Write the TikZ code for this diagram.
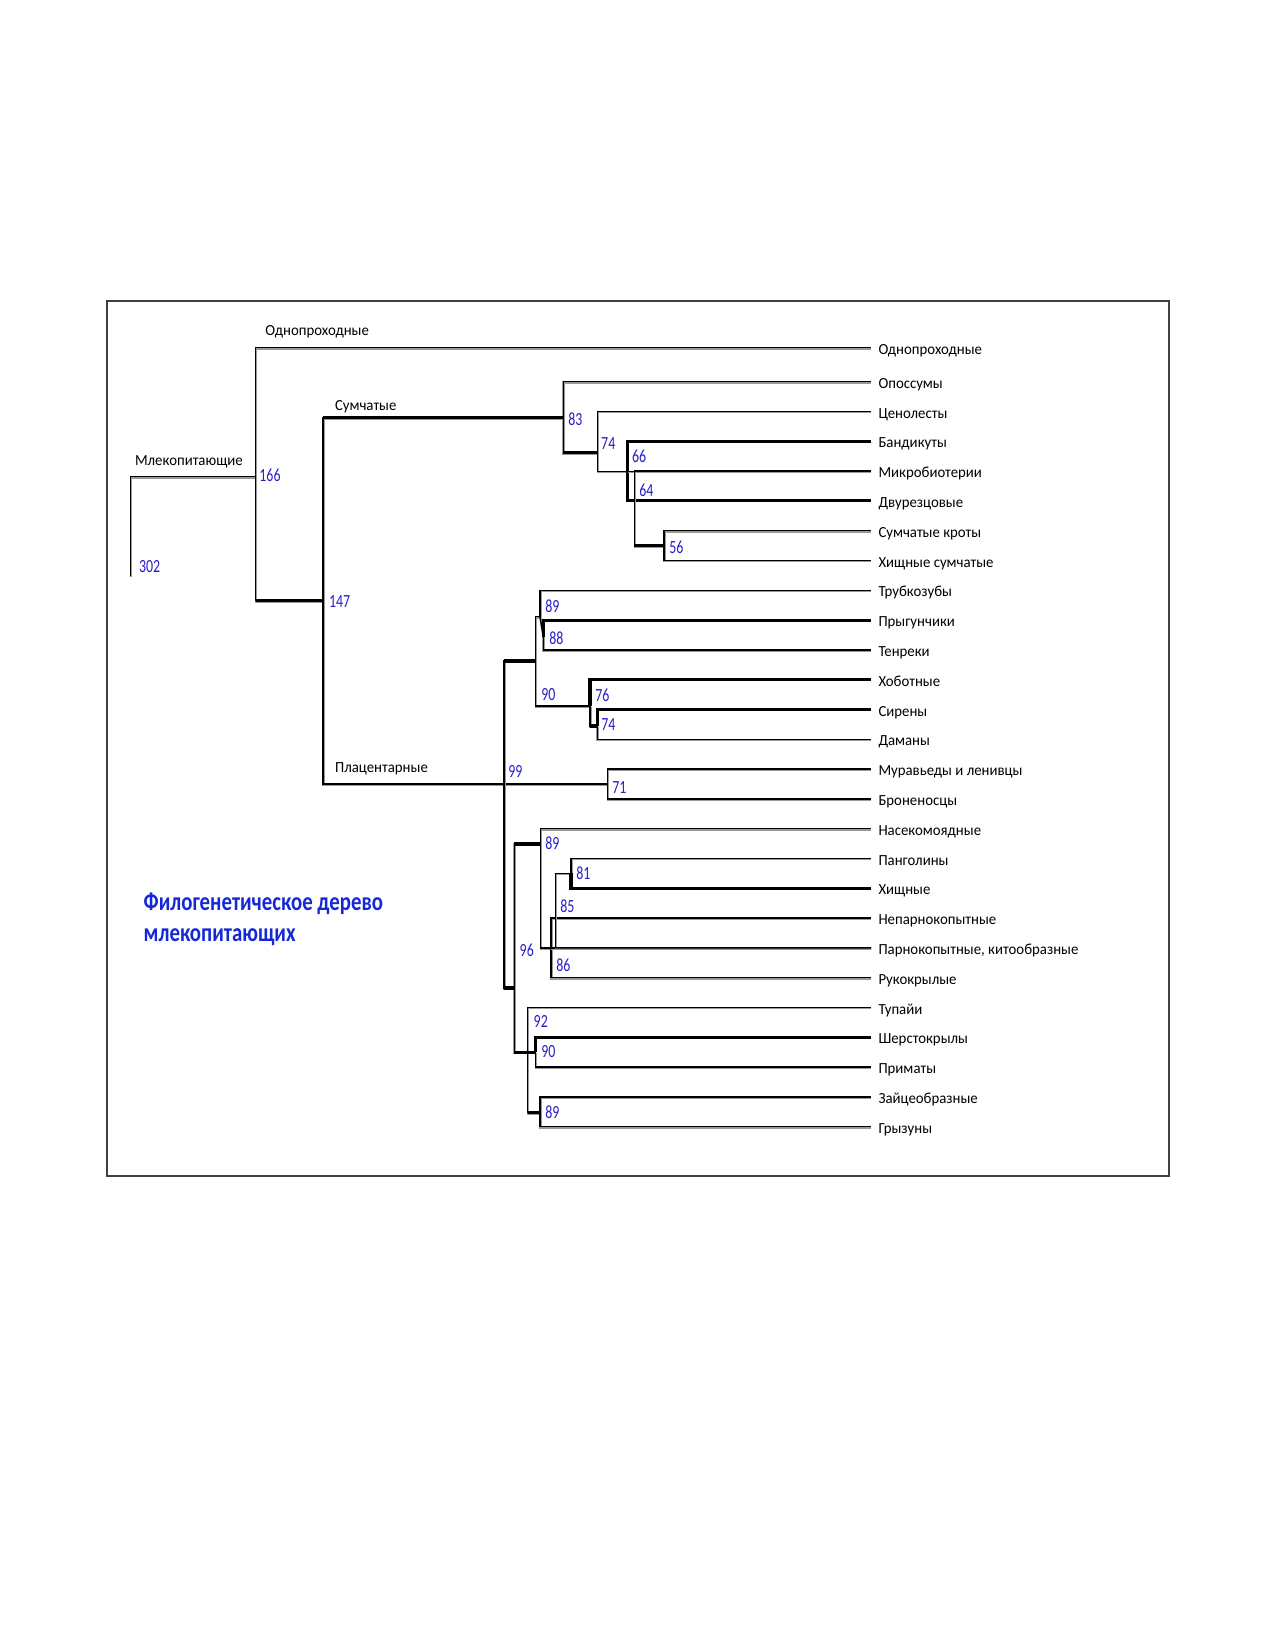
\documentclass[tikz,border=0pt]{standalone}
\usepackage{fontspec}
\setmainfont[FakeStretch=0.96]{Carlito}
\newfontfamily\numfont[FakeStretch=0.75]{Carlito}
\newfontfamily\ttlfont[FakeStretch=0.8]{Carlito}
\definecolor{numblue}{RGB}{40,30,200}
\definecolor{ttlblue}{RGB}{20,40,215}
\tikzset{
  leaf/.style={anchor=west, inner xsep=3.4pt, inner ysep=0pt, text height=0.64em, text depth=0pt, font=\fontsize{7.4}{9}\selectfont},
  grp/.style={anchor=west, inner sep=0pt, text height=0.64em, text depth=0pt, font=\fontsize{7.4}{9}\selectfont},
  num/.style={anchor=west, inner sep=0pt, text=numblue, font=\numfont\fontsize{8.9}{10}\selectfont},
  ttl/.style={anchor=base west, inner sep=0pt, text=ttlblue, font=\ttlfont\bfseries\fontsize{12.5}{15}\selectfont},
  br/.style={line width=0.7pt, preaction={draw=black!40, line width=1.2pt, transform canvas={shift={(0.2pt,-0.35pt)}}}},
  brb/.style={line width=1.5pt},
}
\begin{document}
\begin{tikzpicture}[x=0.48pt, y=-0.48pt]
  \useasboundingbox (0,0) rectangle (1275,1650);
  \draw[black!75, line width=0.9pt] (107,301) rectangle (1169,1176);

  % leaves
  \node[leaf] (l0) at (871,347.7) {Однопроходные};
  \foreach \name [count=\i] in {Опоссумы, Ценолесты, Бандикуты, Микробиотерии,
      Двурезцовые, Сумчатые кроты, Хищные сумчатые, Трубкозубы, Прыгунчики,
      Тенреки, Хоботные, Сирены, Даманы, Муравьеды и ленивцы, Броненосцы,
      Насекомоядные, Панголины, Хищные, Непарнокопытные,
      {Парнокопытные, китообразные}, Рукокрылые, Тупайи, Шерстокрылы,
      Приматы, Зайцеобразные, Грызуны}
    \node[leaf] (l\i) at (871,{381.7+29.8*(\i-1)}) {\name};

  % branch points
  \coordinate (root) at (130.4,576);
  \coordinate (n166) at (255.5,476.7);
  \coordinate (n147) at (323.2,600.7);
  \coordinate (n83) at (563.3,417.7);
  \coordinate (n74) at (597.7,452.7);
  \coordinate (n66) at (627.3,471.3);
  \coordinate (n64) at (634.4,471.3);
  \coordinate (n56) at (664.1,545.7);
  \coordinate (n99) at (504,784);
  \coordinate (n90a) at (535.7,661);
  \coordinate (n89a) at (540,616.7);
  \coordinate (n88) at (543.3,636.7);
  \coordinate (n76) at (590,706);
  \coordinate (n74b) at (597.3,726);
  \coordinate (n71) at (607.6,784);
  \coordinate (n96) at (514.3,988);
  \coordinate (n89b) at (540.7,844);
  \coordinate (n86) at (551,947.9);
  \coordinate (n85) at (555.7,947.9);
  \coordinate (n81) at (571,873.3);
  \coordinate (n92) at (527.7,1052.3);
  \coordinate (n90b) at (535.7,1052.3);
  \coordinate (n89c) at (540,1112.7);

  % main split
  \draw[br] (root) |- (n166);
  \draw[br] (n166) |- (l0.west);
  \draw[br] (n166) |- (n147);
  \draw[br] (n147) |- (n83);
  \draw[br] (n147) |- (n99);

  % marsupials
  \draw[br] (n83) |- (l1.west);
  \draw[br] (n83) |- (n74);
  \draw[br] (n74) |- (l2.west);
  \draw[br] (n74) |- (n66);
  \draw[brb] (n66) |- (l3.west);
  \draw[brb] (n66) |- (l5.west);
  \draw[br] (n66) -- (n64);
  \draw[br] (n64) |- (l4.west);
  \draw[br] (n64) |- (n56);
  \draw[br] (n56) |- (l6.west);
  \draw[br] (n56) |- (l7.west);

  % placentals
  \draw[br] (n99) -- (n71);
  \draw[br] (n99) |- (n90a);
  \draw[br] (n99) |- (n96);
  \draw[br] (n90a) |- (n89a);
  \draw[br] (n90a) |- (n76);
  \draw[br] (n89a) |- (l8.west);
  \draw[br] (n89a) -- (n88);
  \draw[brb] (n88) |- (l9.west);
  \draw[br] (n88) |- (l10.west);
  \draw[brb] (n76) |- (l11.west);
  \draw[br] (n76) |- (n74b);
  \draw[brb] (n74b) |- (l12.west);
  \draw[br] (n74b) |- (l13.west);
  \draw[br] (n71) |- (l14.west);
  \draw[br] (n71) |- (l15.west);
  \draw[br] (n96) |- (n89b);
  \draw[br] (n96) |- (n92);
  \draw[br] (n92) -- (n90b);
  \draw[br] (n92) |- (l22.west);
  \draw[br] (n92) |- (n89c);
  \draw[br] (n89b) |- (l16.west);
  \draw[br] (n89b) |- (n86);
  \draw[br] (n86) |- (l19.west);
  \draw[br] (n86) |- (l21.west);
  \draw[br] (n86) -- (n85);
  \draw[br] (n85) |- (n81);
  \draw[br] (n85) -- (l20.west);
  \draw[br] (n81) |- (l17.west);
  \draw[brb] (n81) |- (l18.west);
  \draw[brb] (n90b) |- (l23.west);
  \draw[br] (n90b) |- (l24.west);
  \draw[br] (n89c) |- (l25.west);
  \draw[br] (n89c) |- (l26.west);

  % heavy stubs
  \draw[brb] (n166 |- n147) -- (n147);
  \draw[brb] (n147 |- n83) -- (n83);
  \draw[brb] (n83 |- n74) -- (n74);
  \draw[brb] (n64 |- n56) -- (n56);
  \draw[brb] (n99 |- n90a) -- (n90a);
  \draw[brb] (n99 |- n96) -- (n96);
  \draw[brb] (n76 |- n74b) -- (n74b);
  \draw[brb] (n96 |- n89b) -- (n89b);
  \draw[brb] (n96 |- n90b) -- (n90b);
  \draw[brb] (n92 |- n89c) -- (n89c);

  % support values
  \node[num] (s302) at (138.6,566.7) {302};
  \node[num] (s166) at (259,475.7) {166};
  \node[num] (s147) at (328.6,601.7) {147};
  \node[num] (s83) at (568,419) {83};
  \node[num] (s74) at (600.8,444) {74};
  \node[num] (s66) at (631.7,456.7) {66};
  \node[num] (s64) at (639,490) {64};
  \node[num] (s56) at (669,547.7) {56};
  \node[num] (s89a) at (545,606.7) {89};
  \node[num] (s88) at (549,638.3) {88};
  \node[num] (s90a) at (541,695) {90};
  \node[num] (s76) at (595,695.7) {76};
  \node[num] (s74b) at (601,725) {74};
  \node[num] (s99) at (508,771.7) {99};
  \node[num] (s71) at (612,787.7) {71};
  \node[num] (s89b) at (545,843.3) {89};
  \node[num] (s81) at (576,873.3) {81};
  \node[num] (s85) at (560,906) {85};
  \node[num] (s96) at (519.3,950.7) {96};
  \node[num] (s86) at (556,965.7) {86};
  \node[num] (s92) at (533.3,1021.7) {92};
  \node[num] (s90b) at (541,1051.7) {90};
  \node[num] (s89c) at (545,1112.7) {89};

  % group names
  \node[grp] (gmam) at (134.6,459) {Млекопитающие};
  \node[grp] (gmon) at (265,329.3) {Однопроходные};
  \node[grp] (gmar) at (334.6,404.3) {Сумчатые};
  \node[grp] (gpla) at (334.7,766) {Плацентарные};

  % title
  \node[ttl] (ttl1) at (143.3,910) {Филогенетическое дерево};
  \node[ttl] (ttl2) at (143.3,941.7) {млекопитающих};
\end{tikzpicture}
\end{document}
